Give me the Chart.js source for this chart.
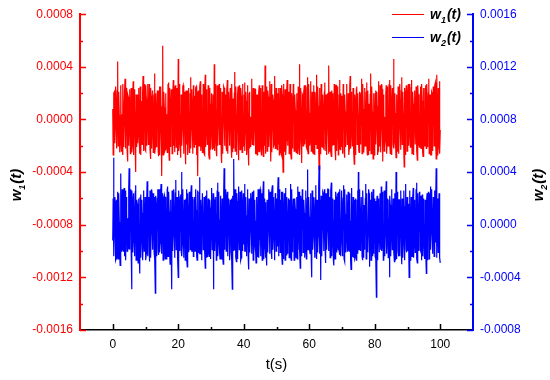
<!DOCTYPE html>
<html>
<head>
<meta charset="utf-8">
<script src="https://cdn.jsdelivr.net/npm/chart.js@4.4.1/dist/chart.umd.min.js"></script>
<style>
	html, body { margin: 0; padding: 0; background: #fff; }
</style>
</head>
<body>
<canvas id="noiseChart" width="550" height="380"></canvas>
<script>
// sampling step of the time axis, in seconds
const dt = 0.125;

// w1(t), values in units of 1e-4 (left axis), one row = 5 s
const w1 = [
	0.8, -2.7, -1.3, 2.0, 2.1, -1.8, -0.6, 2.5, 1.5, -1.9, -2.2, 2.2, 4.4, -2.0, -1.1, 2.1, 0.3, -2.5, -1.8, 2.6, 2.6, -2.4, 0.4, -2.2, -2.7, 2.7, 1.2, -2.1, -0.5, 2.3, 3.1, -2.2, -1.6, 2.4, 0.9, -2.3, -3.2, 1.9, 1.7, -2.0,
	-0.7, 2.1, 2.3, -2.6, -1.4, 2.4, 0.6, -2.5, -2.0, 2.2, 2.9, -2.7, -0.2, 2.3, 1.1, -2.4, -4.0, 1.9, 0.8, -2.1, 1.9, -1.8, -1.2, 2.0, 2.4, -1.9, -2.6, 2.5, 0.1, -2.7, 1.4, -1.8, -1.9, 2.1, 3.3, -2.4, -0.9, 2.7, 0.5, -2.3,
	-2.4, 2.6, 1.6, -2.0, -0.3, 2.5, 2.7, -1.9, -1.7, 2.7, 0.2, -2.3, -3.0, 2.4, 1.8, -2.2, -0.8, 2.1, 2.2, -2.5, -1.5, 1.9, 3.5, -2.6, -2.1, 2.0, 0.7, -2.1, -1.0, 2.2, 1.3, -2.4, -2.8, 2.2, 2.5, -2.7, -0.4, 2.5, 1.0, -1.9,
	-4.3, 0.6, 5.6, -2.7, -1.2, 2.1, 0.9, -2.4, -2.3, 2.0, 1.7, -2.2, 0.4, -2.5, -1.6, 2.7, 2.8, -1.9, -3.1, 2.4, 1.2, -2.1, -0.6, 2.3, 2.0, -2.6, -1.9, 1.9, 3.0, -2.0, -0.2, 2.5, -2.5, 2.6, 1.5, -2.1, -1.0, 2.4, 2.4, -2.7,
	4.6, -2.4, -1.8, 2.7, 0.6, -2.1, -2.9, 1.9, 1.9, -2.0, -0.7, 2.5, 2.6, -2.6, -1.3, 2.1, 0.2, -2.3, -3.4, 2.2, 1.4, -1.9, 2.2, -2.7, -1.1, 2.4, 0.8, -2.5, -2.2, 2.0, 3.2, -2.2, -0.5, 2.3, 1.1, -2.4, -2.6, 2.6, 0.3, -2.1,
	1.8, -1.9, -1.4, 2.4, 2.5, -2.7, -0.9, 2.1, -4.3, 2.2, 1.6, -2.0, -0.1, 2.5, 2.9, -2.4, -2.0, 1.9, 0.7, -2.5, -1.2, 2.7, 1.9, -2.6, -2.7, 2.0, 3.4, -2.1, -0.6, 2.3, 0.5, -1.9, -1.7, 2.6, 2.3, -2.7, -3.0, 2.4, 1.2, -2.3,
	-0.8, 2.0, 2.0, -2.1, -2.3, 1.9, 0.4, -2.2, 4.2, -2.4, -1.5, 2.7, 1.0, -2.5, -2.8, 2.6, 1.7, -2.0, -0.3, 2.3, 2.7, -1.9, -1.9, 2.4, 0.6, -2.7, -3.3, 2.1, 1.5, -2.6, -0.2, 2.5, 2.4, -2.0, -1.0, 1.9, 0.9, -2.1, -2.4, 2.2,
	3.0, -2.6, -0.7, 2.1, 1.3, -2.0, -1.6, 2.4, 2.2, -1.9, -2.9, 2.7, 0.8, -2.5, 1.6, -2.2, -1.2, 2.0, 3.6, -2.4, -2.0, 2.5, 0.3, -2.7, -0.9, 1.9, 2.5, -2.1, -3.1, 2.6, 1.1, -2.3, -0.4, 2.4, 1.8, -1.9, -2.5, 2.7, 0.6, -2.0,
	-1.5, 1.9, 2.8, -2.4, -0.6, 2.1, 1.4, -2.7, -2.2, 2.6, 0.9, -2.5, -3.5, 2.0, 2.1, -2.2, 0.2, -2.1, -1.3, 2.7, 3.1, -1.9, -1.8, 2.4, 1.0, -2.0, -0.5, 2.3, 2.3, -2.6, -2.6, 1.9, 0.7, -2.7, 1.9, -2.4, -1.1, 2.1, 2.6, -2.5,
	-2.1, 2.4, 0.5, -2.7, -1.4, 2.6, 2.0, -1.9, -2.8, 2.1, 1.3, -2.0, 4.1, -2.6, -1.0, 2.5, 0.4, -2.4, -2.4, 2.2, 1.7, -2.1, -0.8, 2.0, 2.9, -1.9, -3.2, 2.7, 0.9, -2.5, -0.3, 1.9, 1.5, -2.0, -1.9, 2.1, 3.3, -2.2, -0.6, 2.4,
	1.2, -2.1, -2.3, 2.0, 0.8, -1.9, 2.4, -2.7, -1.1, 2.4, 0.1, -2.5, -2.7, 2.6, 1.9, -2.0, -4.0, 1.9, 2.7, -2.4, -0.5, 2.3, 1.0, -2.7, -1.6, 2.2, 3.0, -1.9, -2.0, 2.1, 0.6, -2.6, -0.9, 2.7, 2.2, -2.5, -3.0, 2.0, 1.4, -2.2,
	-0.4, 2.7, 2.5, -2.4, -1.8, 1.9, 0.7, -2.1, -2.5, 2.0, 1.6, -2.6, -0.2, 2.5, 2.0, -2.2, 4.2, -2.7, -1.4, 2.4, 0.3, -2.3, -3.3, 1.9, 1.8, -2.0, -0.7, 2.1, 2.6, -1.9, -1.2, 2.6, 0.9, -2.1, -2.2, 2.4, 3.2, -2.6, -1.0, 2.7,
	0.5, -2.0, -1.7, 1.9, 2.9, -2.4, -0.8, 2.1, 1.4, -2.5, -2.6, 2.6, 0.2, -2.7, 2.1, -1.9, -1.5, 2.0, 3.4, -2.2, -0.3, 2.5, 1.0, -2.1, -3.8, 2.4, 1.7, -2.6, -0.9, 2.7, 2.3, -2.0, -2.1, 1.9, 0.6, -2.3, -1.3, 2.1, 2.8, -2.4,
	-2.4, 1.9, 0.9, -2.7, -0.5, 2.0, 1.5, -2.6, 4.1, -2.4, -1.9, 2.1, 0.4, -2.5, -2.8, 2.2, 1.2, -2.0, 2.0, -1.9, -1.1, 2.7, 0.7, -2.1, -3.1, 2.6, 2.6, -2.4, -0.6, 2.5, 1.3, -2.7, -1.8, 1.9, 3.0, -2.2, -2.3, 2.0, 0.1, -2.1,
	1.8, -2.6, -1.2, 2.7, 2.4, -2.4, -2.9, 1.9, 0.6, -2.1, -0.4, 2.5, 2.7, -1.9, -1.6, 2.0, 1.0, -2.7, -2.2, 2.6, 3.3, -2.2, -0.8, 2.1, 0.5, -2.0, -1.4, 2.4, 2.1, -2.5, -3.4, 1.9, 1.4, -2.7, -0.1, 2.3, 2.5, -1.9, -1.7, 2.0,
	0.3, -2.4, -2.5, 2.1, 1.9, -1.9, -0.7, 2.0, 3.1, -2.6, -1.3, 2.7, 0.8, -2.5, -2.0, 2.4, 1.6, -2.0, -0.2, 2.1, 2.8, -1.9, -2.7, 2.2, 0.4, -2.7, 1.2, -2.4, -1.5, 1.9, 3.5, -2.6, -0.9, 2.5, 0.6, -2.1, -3.0, 2.0, 1.7, -2.7,
	-1.1, 2.0, 2.2, -1.9, -0.3, 2.1, 1.0, -2.7, -2.4, 2.4, 2.9, -2.0, -1.8, 2.6, 0.7, -2.5, -0.5, 2.7, 2.3, -2.2, -3.2, 1.9, 1.5, -2.4, 0.2, -2.1, -1.6, 2.0, 2.6, -2.6, -2.0, 2.5, 0.9, -2.0, -1.0, 2.7, 3.0, -1.9, -2.6, 2.6,
	1.3, -2.7, -0.6, 2.4, 0.8, -1.9, 4.6, -2.2, -1.7, 2.0, 0.5, -2.1, -2.9, 1.9, 1.8, -2.4, -1.2, 2.5, 2.4, -2.6, -0.4, 2.7, 1.1, -2.0, -2.3, 2.2, 3.2, -1.9, -1.4, 2.1, 0.3, -2.5, -3.6, 2.4, 2.0, -2.7, -0.8, 2.6, 1.6, -2.4,
	-2.0, 1.9, 2.7, -2.0, -0.9, 2.7, 0.4, -2.1, -1.5, 2.4, 3.0, -2.6, -2.5, 2.1, 1.2, -2.7, -0.2, 2.0, 2.2, -1.9, -1.9, 2.5, 0.6, -2.4, -3.1, 2.6, 1.9, -2.0, 0.1, -2.1, -1.3, 1.9, 2.5, -2.2, -0.7, 2.7, 1.4, -2.5, -2.8, 2.4,
	0.9, -2.0, -1.0, 2.4, 2.6, -1.9, -2.2, 2.7, 1.5, -2.1, -0.6, 2.0, 3.1, -2.6, -1.7, 1.9, 0.3, -2.7, -2.7, 2.1, 2.0, -2.4, -0.4, 2.5, 1.1, -2.0, -1.9, 2.6, 2.8, -1.9, -3.0, 2.2, 3.4, -2.7, -1.2, 2.4, 0.7, -2.1, 2.9, -2.6,
	-0.8,
];

// w2(t), values in units of 1e-4 (right axis), one row = 5 s
const w2 = [
	-1.2, 2.0, 5.1, -2.4, -0.4, 2.1, 1.8, -2.7, -2.6, 1.9, 0.7, -2.5, 2.5, -2.6, -1.5, 2.4, 0.2, -2.1, -3.1, 2.2, 3.9, -2.0, -0.9, 2.7, 1.4, -1.9, -2.0, 2.5, 2.8, -2.4, -0.3, 2.6, -2.7, 2.1, 1.1, -2.0, 0.5, -1.9, -1.8, 2.7,
	4.3, -1.9, -0.6, 2.7, 1.2, -2.0, -4.9, 2.6, 2.0, -2.1, -1.3, 2.4, 0.8, -2.2, -2.4, 2.5, 3.0, -2.7, -0.2, 1.9, 1.6, -2.4, -2.9, 2.0, 0.4, -2.6, -3.7, 2.1, 2.3, -2.5, -1.0, 1.9, 0.9, -2.7, -1.7, 2.4, 2.6, -2.0, -0.5, 2.1,
	1.3, -2.7, -2.2, 1.9, 3.3, -2.4, -1.1, 2.1, 0.3, -2.0, -2.8, 2.6, 1.9, -2.5, -0.7, 2.7, 2.4, -1.9, -1.6, 2.4, 0.6, -2.1, 2.1, -2.6, -5.2, 2.2, 1.5, -2.4, -0.8, 2.0, 2.7, -1.9, -2.3, 2.7, 0.1, -2.1, -1.4, 2.5, 3.1, -2.2,
	-1.9, 2.4, 0.7, -2.7, -0.3, 2.0, 2.2, -1.9, -2.6, 2.1, 1.4, -2.6, -1.0, 2.7, 2.9, -2.4, -0.4, 2.5, 1.0, -2.1, -3.0, 1.9, 1.7, -2.2, -4.9, 2.6, 2.5, -2.0, -0.6, 2.7, 0.9, -2.5, -2.1, 2.4, 3.4, -1.9, -1.2, 2.1, 0.2, -2.7,
	-4.0, 2.6, 1.8, -2.0, -0.9, 2.1, 2.3, -1.9, 4.0, -2.4, -1.5, 2.7, 0.6, -2.5, -2.5, 1.9, 1.2, -2.7, -0.1, 2.0, 2.7, -2.6, -3.2, 2.4, 0.8, -2.1, -1.3, 2.5, 1.9, -1.9, -0.5, 2.2, 3.0, -2.0, -2.0, 2.1, 0.4, -2.4, -1.7, 1.9,
	2.1, -2.0, -0.8, 2.7, 1.1, -2.4, -2.7, 2.6, 0.5, -2.1, -1.2, 2.5, 3.6, -2.2, -2.2, 1.9, 0.9, -2.7, -0.4, 2.4, 2.4, -1.9, -1.8, 2.1, 1.5, -2.0, -3.3, 2.2, 0.2, -2.5, 2.6, -2.4, -1.1, 2.0, 0.7, -2.1, -2.4, 1.9, 1.3, -2.6,
	-0.6, 2.7, 2.8, -1.9, -1.6, 2.4, -4.9, 2.2, 1.9, -2.0, -0.3, 2.1, 1.0, -2.7, -2.1, 2.6, 3.2, -2.4, -1.4, 2.5, 0.4, -2.1, -2.6, 1.9, 2.2, -2.6, -0.7, 2.0, 1.5, -2.5, -3.0, 2.4, 4.3, -1.9, -1.2, 2.7, 0.8, -2.0, -1.9, 2.1,
	2.5, -2.4, -0.5, 2.0, 1.3, -2.7, -2.3, 1.9, 0.6, -2.1, 2.0, -2.6, -4.9, 2.2, 1.1, -2.0, 5.0, -1.9, -1.7, 2.7, 0.2, -2.5, -2.8, 2.4, 1.8, -2.6, -0.9, 2.1, 2.9, -1.9, -1.3, 2.5, 0.5, -2.7, -2.5, 2.6, 1.6, -2.0, -0.2, 2.4,
	-1.5, 1.9, 3.1, -2.0, -2.0, 2.1, 0.7, -2.4, -0.8, 2.7, 2.3, -2.6, -3.4, 2.0, 1.2, -2.1, -0.4, 2.4, 1.9, -1.9, -2.2, 2.5, 0.9, -2.7, 2.6, -2.2, -1.6, 1.9, 0.3, -2.0, -2.9, 2.1, 2.0, -2.4, -0.7, 2.7, 1.4, -2.5, -1.1, 2.6,
	2.7, -1.9, -2.4, 2.4, 0.6, -2.7, -1.0, 2.1, 3.3, -2.6, -1.8, 2.0, 0.1, -2.5, 1.7, -2.4, -3.1, 1.9, 0.8, -2.1, -0.5, 2.7, 2.4, -2.2, -1.4, 2.5, 1.1, -2.0, -2.6, 2.6, 3.0, -1.9, -0.9, 2.1, 0.4, -2.7, -1.9, 2.4, 2.2, -2.0,
	-0.3, 2.0, -1.6, 2.6, 3.6, -2.4, -2.1, 2.7, 0.9, -2.1, -0.6, 1.9, 2.5, -2.0, -3.0, 2.5, 1.3, -2.6, -1.2, 2.4, 0.5, -2.7, 2.8, -1.9, -2.3, 2.1, 0.2, -2.2, -1.7, 2.0, 1.6, -2.5, -0.8, 1.9, 3.1, -2.4, -2.7, 2.7, 1.0, -2.1,
	-1.3, 1.9, 2.0, -2.7, -0.4, 2.0, 1.2, -2.4, -2.5, 2.1, 0.7, -2.6, 2.9, -1.9, -1.9, 2.5, 0.3, -2.0, -3.3, 2.2, 1.8, -2.4, -0.6, 2.7, 2.2, -2.1, -1.1, 1.9, 0.9, -2.5, -2.0, 2.4, 2.6, -2.6, -0.2, 2.0, 4.2, -1.9, -1.5, 2.1,
	0.6, -2.0, -2.2, 2.4, 1.7, -2.7, -4.0, 2.6, 2.3, -1.9, -0.8, 2.1, 1.1, -2.5, -1.6, 2.0, 3.0, -2.4, -2.6, 1.9, 0.4, -2.1, -0.9, 2.7, 4.5, -2.2, -1.4, 1.9, -4.2, 2.2, 1.5, -2.4, -0.3, 2.5, 2.4, -2.0, -1.8, 2.7, 0.8, -2.1,
	-2.9, 2.4, 1.9, -1.9, -0.5, 2.7, 2.7, -2.0, -1.2, 2.1, 0.2, -2.5, -2.4, 2.6, 3.2, -2.4, -1.0, 2.0, 0.7, -2.7, -3.1, 1.9, 1.4, -2.6, -0.2, 2.5, 2.1, -2.1, -1.7, 2.4, 0.9, -1.9, 2.5, -2.0, -2.3, 2.7, 0.4, -2.4, -1.4, 2.6,
	1.6, -2.4, -0.7, 2.0, 3.0, -2.6, -2.8, 2.7, 0.8, -2.1, -1.1, 1.9, 2.3, -2.0, -0.4, 2.5, 1.2, -1.9, -2.0, 2.4, 0.3, -2.7, -3.4, 2.2, 2.8, -2.4, -1.5, 2.1, 0.6, -2.5, 1.9, -2.6, -2.5, 2.0, 0.1, -2.7, -0.9, 1.9, 2.6, -2.2,
	4.0, -1.9, -1.9, 2.7, 0.5, -2.0, -1.3, 2.1, 2.1, -2.4, -2.7, 2.6, 0.9, -2.5, 1.5, -1.9, -1.0, 2.0, 3.1, -2.6, -2.2, 2.4, 0.2, -2.1, -0.6, 2.7, 2.4, -2.0, -3.2, 1.9, 1.1, -2.7, -1.5, 2.5, 0.7, -2.4, 2.7, -2.2, -1.8, 2.0,
	0.4, -2.4, 1.8, -2.6, -5.5, 1.9, 2.2, -2.7, -0.8, 2.0, 1.3, -2.1, -2.1, 2.4, 0.6, -1.9, 2.9, -2.0, -1.4, 2.5, 0.1, -2.7, -2.6, 2.6, 1.7, -2.4, -0.5, 2.1, 3.3, -2.2, -1.2, 2.0, 0.8, -2.5, -2.3, 1.9, -4.0, 2.2, 1.5, -2.4,
	-0.9, 2.7, 2.4, -1.9, -1.6, 2.0, 0.3, -2.1, -2.8, 2.4, 1.0, -2.7, 4.0, -2.6, -1.1, 2.5, 0.6, -2.0, -2.4, 1.9, 1.9, -2.4, -0.2, 2.1, 2.6, -2.2, -3.0, 2.0, 0.9, -2.5, -1.3, 2.6, 1.4, -2.7, -0.6, 2.4, 3.1, -1.9, -2.1, 2.1,
	0.7, -2.0, 1.6, -1.9, -4.0, 2.6, 2.0, -2.7, -0.7, 2.1, 0.4, -2.4, -2.3, 2.0, 2.8, -2.5, -1.5, 1.9, 0.8, -2.1, -0.1, 2.7, 3.2, -2.6, -2.9, 2.4, 1.1, -2.0, -0.8, 2.5, 1.8, -1.9, -2.0, 2.2, 0.5, -2.7, 2.3, -2.4, -1.2, 2.0,
	0.2, -2.4, -2.6, 1.9, 1.5, -2.1, -3.7, 2.0, 2.4, -2.7, -0.6, 2.5, 1.0, -2.6, -1.9, 2.4, 2.9, -1.9, -0.4, 2.7, 0.6, -2.0, -2.2, 2.1, 1.7, -2.4, -1.0, 2.6, -1.3, 1.9, 4.3, -2.2, -2.5, 2.0, 0.8, -2.1, -1.4, 2.4, 1.9, -2.5,
	-2.9,
];

// tick values (axis units; y axes in 1e-4)
const xTicks = [ 0, 20, 40, 60, 80, 100 ];
const xMinorTicks = [ 10, 30, 50, 70, 90 ];
const leftTicks = [ -16, -12, -8, -4, 0, 4, 8 ];
const rightTicks = [ -8, -4, 0, 4, 8, 12, 16 ];

const RED = '#ff0000';
const BLUE = '#0000ff';
const FONT = 'Arial, "Liberation Sans", sans-serif';

const fmt = ( v ) => ( v * 1e-4 ).toFixed( 4 );

// draws "w<sub>n</sub>(t)" starting at x, baseline y
function drawW( ctx, x, y, sub, size ) {
	ctx.font = 'italic bold ' + size + 'px ' + FONT;
	ctx.fillText( 'w', x, y );
	let cx = x + ctx.measureText( 'w' ).width;
	ctx.font = 'italic bold ' + Math.round( size * 0.62 ) + 'px ' + FONT;
	ctx.fillText( sub, cx, y + size * 0.25 );
	cx += ctx.measureText( sub ).width + 1;
	ctx.font = 'italic bold ' + size + 'px ' + FONT;
	ctx.fillText( '(t)', cx, y );
	return cx + ctx.measureText( '(t)' ).width - x;
}

function wWidth( ctx, sub, size ) {
	ctx.save();
	ctx.globalAlpha = 0;
	const w = drawW( ctx, 0, 0, sub, size );
	ctx.restore();
	return w;
}

const decorations = {
	id: 'decorations',
	afterDraw( chart ) {
		const { ctx, chartArea: a, scales } = chart;
		ctx.save();

		// inward tick marks
		ctx.lineWidth = 1.5;
		ctx.strokeStyle = RED;
		for ( let v = -16; v <= 8; v += 2 ) {
			const y = Math.round( scales.y.getPixelForValue( v ) ) + 0.5;
			const len = leftTicks.includes( v ) ? 6 : 3;
			ctx.beginPath();
			ctx.moveTo( a.left, y );
			ctx.lineTo( a.left + len, y );
			ctx.stroke();
		}
		ctx.strokeStyle = BLUE;
		for ( let v = -8; v <= 16; v += 2 ) {
			const y = Math.round( scales.y2.getPixelForValue( v ) ) + 0.5;
			const len = rightTicks.includes( v ) ? 6 : 3;
			ctx.beginPath();
			ctx.moveTo( a.right, y );
			ctx.lineTo( a.right - len, y );
			ctx.stroke();
		}
		ctx.strokeStyle = '#000';
		xTicks.concat( xMinorTicks ).forEach( ( v ) => {
			const x = Math.round( scales.x.getPixelForValue( v ) ) + 0.5;
			const len = xTicks.includes( v ) ? 6 : 3;
			ctx.beginPath();
			ctx.moveTo( x, a.bottom );
			ctx.lineTo( x, a.bottom - len );
			ctx.stroke();
		} );

		// axis titles
		ctx.fillStyle = '#000';
		ctx.textBaseline = 'alphabetic';
		ctx.textAlign = 'left';
		const size = 15;
		[ [ 21, '1' ], [ 543, '2' ] ].forEach( ( [ cx, sub ] ) => {
			const w = wWidth( ctx, sub, size );
			ctx.save();
			ctx.translate( cx, 185 );
			ctx.rotate( -Math.PI / 2 );
			drawW( ctx, -w / 2, 0, sub, size );
			ctx.restore();
		} );

		// legend
		ctx.lineWidth = 1;
		[ [ 14, RED, '1' ], [ 37, BLUE, '2' ] ].forEach( ( [ y, color, sub ] ) => {
			ctx.strokeStyle = color;
			ctx.beginPath();
			ctx.moveTo( 392, y + 0.5 );
			ctx.lineTo( 424, y + 0.5 );
			ctx.stroke();
			ctx.fillStyle = '#000';
			drawW( ctx, 430, y + 5, sub, 14 );
		} );

		ctx.restore();
	},
};

const toPoints = ( arr ) => arr.map( ( v, i ) => ( { x: i * dt, y: v } ) );

new Chart( document.getElementById( 'noiseChart' ), {
	type: 'line',
	data: {
		datasets: [
			{
				label: 'w1(t)',
				data: toPoints( w1 ),
				borderColor: RED,
				borderWidth: 1.2,
				pointRadius: 0,
				yAxisID: 'y',
				order: 2,
			},
			{
				label: 'w2(t)',
				data: toPoints( w2 ),
				borderColor: BLUE,
				borderWidth: 1.2,
				pointRadius: 0,
				yAxisID: 'y2',
				order: 1,
			},
		],
	},
	options: {
		responsive: false,
		animation: false,
		layout: { padding: { top: 10, left: 0, right: 0, bottom: 0 } },
		plugins: {
			legend: { display: false },
			tooltip: { enabled: false },
		},
		scales: {
			x: {
				type: 'linear',
				min: -10,
				max: 110,
				afterBuildTicks: ( s ) => { s.ticks = xTicks.map( ( v ) => ( { value: v } ) ); },
				afterFit: ( s ) => { s.height = 50; },
				grid: { display: false, drawTicks: false },
				border: { display: true, color: '#000', width: 1.5 },
				ticks: { color: '#000', padding: 7, font: { family: FONT, size: 12 } },
				title: {
					display: true,
					text: 't(s)',
					color: '#000',
					font: { family: FONT, size: 15 },
					padding: { top: 0, bottom: 6 },
				},
			},
			y: {
				position: 'left',
				min: -16,
				max: 8,
				afterBuildTicks: ( s ) => { s.ticks = leftTicks.map( ( v ) => ( { value: v } ) ); },
				afterFit: ( s ) => { s.width = 80; },
				grid: { display: false, drawTicks: false },
				border: { display: true, color: RED, width: 2 },
				ticks: { color: RED, padding: 7, font: { family: FONT, size: 12 }, callback: fmt },
			},
			y2: {
				position: 'right',
				min: -8,
				max: 16,
				afterBuildTicks: ( s ) => { s.ticks = rightTicks.map( ( v ) => ( { value: v } ) ); },
				afterFit: ( s ) => { s.width = 77; },
				grid: { display: false, drawTicks: false },
				border: { display: true, color: BLUE, width: 2 },
				ticks: { color: BLUE, padding: 7, font: { family: FONT, size: 12 }, callback: fmt },
			},
		},
	},
	plugins: [ decorations ],
} );
</script>
</body>
</html>
